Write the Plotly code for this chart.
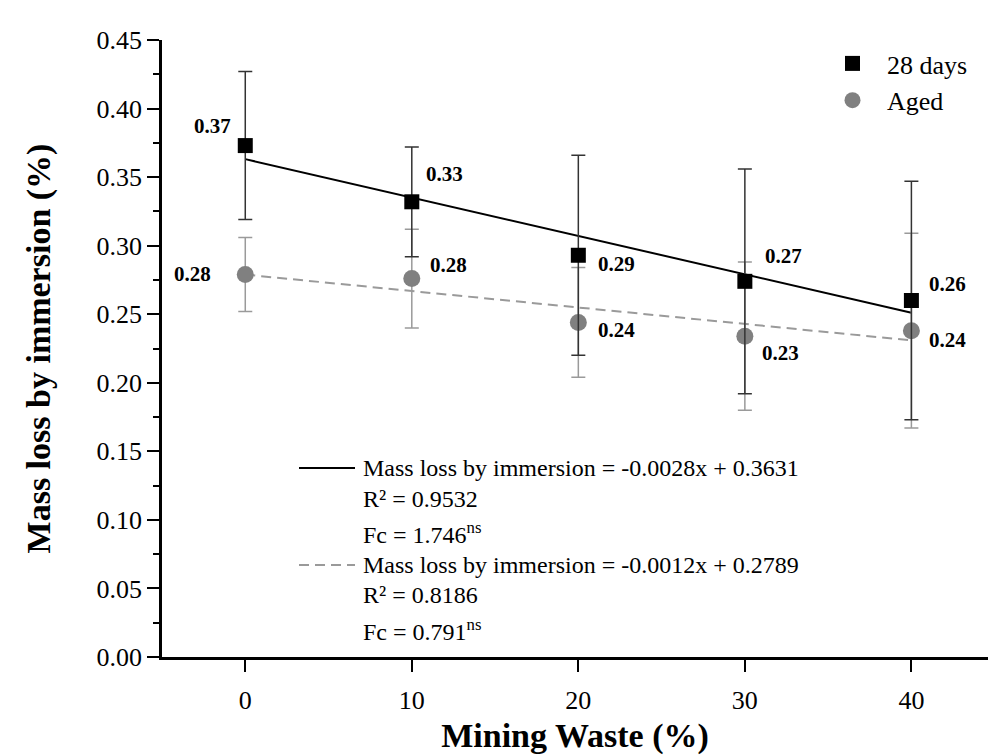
import plotly.graph_objects as go

# ---- data ----
waste = [0, 10, 20, 30, 40]
loss_28d = [0.373, 0.332, 0.293, 0.274, 0.260]
err_28d = [0.054, 0.040, 0.073, 0.082, 0.087]
loss_aged = [0.279, 0.276, 0.244, 0.234, 0.238]
err_aged = [0.027, 0.036, 0.040, 0.054, 0.071]
series_names = ["28 days", "Aged"]

# linear fits (slope, intercept) with statistics
fit_28d = (-0.0028, 0.3631)
fit_aged = (-0.0012, 0.2789)
r2_values = [0.9532, 0.8186]
fc_values = [1.746, 0.791]

x_ticks = [0, 10, 20, 30, 40]
y_ticks = [0.00, 0.05, 0.10, 0.15, 0.20, 0.25, 0.30, 0.35, 0.40, 0.45]

# ---- styling ----
FONT = "Liberation Serif"
BLACK = "#000000"
GREY = "#808080"
LIGHT = "#9a9a9a"

W, H = 988, 755
ML, MR, MT, MB = 162, 0, 40, 98
PW, PH = W - ML - MR, H - MT - MB


def px_x(p):
    return (p - ML) / PW


def px_y(p):
    return (H - MB - p) / PH


# label offsets (px) relative to each point
off_28d = [(-33, 20), (33, 28), (38, -9), (39, 25), (36, 17)]
off_aged = [(-53, 0), (37, 14), (38, -8), (36, -17), (36, -9)]

fig = go.Figure()

# regression lines drawn from the fitted equations
for (m, b), col, dash in [(fit_28d, BLACK, "solid"), (fit_aged, LIGHT, "10px,6px")]:
    xs = [waste[0], waste[-1]]
    fig.add_trace(go.Scatter(
        x=xs, y=[m * x + b for x in xs], mode="lines",
        line=dict(color=col, width=2, dash=dash),
        showlegend=False, hoverinfo="skip"))

fig.add_trace(go.Scatter(
    x=waste, y=loss_aged, mode="markers", name=series_names[1],
    marker=dict(symbol="circle", size=17, color=GREY),
    error_y=dict(type="data", array=err_aged, color=LIGHT, thickness=1.5, width=7)))

fig.add_trace(go.Scatter(
    x=waste, y=loss_28d, mode="markers", name=series_names[0],
    marker=dict(symbol="square", size=15, color=BLACK),
    error_y=dict(type="data", array=err_28d, color="#333333", thickness=1.5, width=7)))

# value labels
for ys, offs in [(loss_28d, off_28d), (loss_aged, off_aged)]:
    for x, y, (dx, dy) in zip(waste, ys, offs):
        fig.add_annotation(x=x, y=y, text=f"<b>{y:.2f}</b>", showarrow=False,
                           xshift=dx, yshift=dy,
                           font=dict(family=FONT, size=21, color=BLACK))

# regression key
key_rows = []
for i, (m, b) in enumerate([fit_28d, fit_aged]):
    key_rows.append(f"Mass loss by immersion = {m:.4f}x + {b:.4f}")
    key_rows.append(f"R² = {r2_values[i]:.4f}")
    key_rows.append(f"Fc = {fc_values[i]:.3f}<sup>ns</sup>")

row_px = [468, 499, 533, 565, 595, 630]
for txt, py in zip(key_rows, row_px):
    fig.add_annotation(xref="paper", yref="paper", x=px_x(361), y=px_y(py),
                       xanchor="left", yanchor="middle", text=txt, showarrow=False,
                       font=dict(family=FONT, size=24, color=BLACK))

fig.add_shape(type="line", xref="paper", yref="paper",
              x0=px_x(299), x1=px_x(355), y0=px_y(468), y1=px_y(468),
              line=dict(color=BLACK, width=2))
fig.add_shape(type="line", xref="paper", yref="paper",
              x0=px_x(299), x1=px_x(355), y0=px_y(565), y1=px_y(565),
              line=dict(color=LIGHT, width=2, dash="10px,6px"))

fig.update_layout(
    width=W, height=H,
    margin=dict(l=ML, r=MR, t=MT, b=MB),
    paper_bgcolor="white", plot_bgcolor="white",
    font=dict(family=FONT, color=BLACK),
    showlegend=True,
    legend=dict(x=px_x(818), y=1.0, xanchor="left", yanchor="top",
                bgcolor="rgba(0,0,0,0)", font=dict(family=FONT, size=26),
                traceorder="reversed", itemwidth=59),
    xaxis=dict(
        range=[-5, 44.6], tickvals=x_ticks, ticktext=[str(v) for v in x_ticks],
        showgrid=False, zeroline=False, showline=True, linecolor=BLACK, linewidth=2.5,
        ticks="outside", ticklen=12, tickwidth=2, tickcolor=BLACK,
        tickfont=dict(family=FONT, size=26), ticklabelstandoff=6,
        title=dict(text="<b>Mining Waste (%)</b>", font=dict(family=FONT, size=34), standoff=14)),
    yaxis=dict(
        range=[0, 0.45], tickvals=y_ticks, ticktext=[f"{v:.2f}" for v in y_ticks],
        showgrid=False, zeroline=False, showline=True, linecolor=BLACK, linewidth=2.5,
        ticks="outside", ticklen=12, tickwidth=2, tickcolor=BLACK,
        minor=dict(dtick=0.025, ticks="outside", ticklen=6, tickwidth=2, tickcolor=BLACK),
        tickfont=dict(family=FONT, size=26), ticklabelstandoff=0,
        title=dict(text="<b>Mass loss by immersion (%)</b>", font=dict(family=FONT, size=34), standoff=36)),
)

fig.write_html("out.html")
